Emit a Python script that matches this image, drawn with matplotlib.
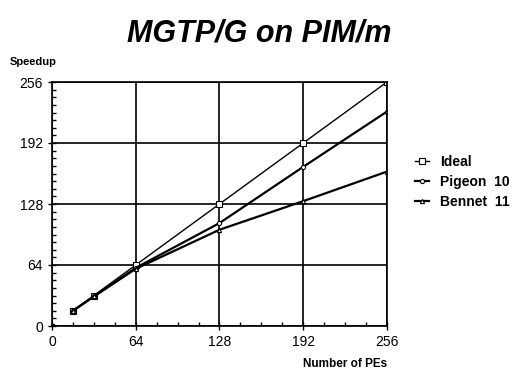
import matplotlib
matplotlib.use("Agg")
import matplotlib.pyplot as plt
from matplotlib.ticker import MultipleLocator

pes = [16, 32, 64, 128, 192, 256]
ideal = [16, 32, 64, 128, 192, 256]
pigeon = [16, 31, 61, 108, 167, 225]
bennet = [16, 31, 60, 101, 131, 162]
labels = ["Ideal", "Pigeon  10", "Bennet  11"]
ticks = [0, 64, 128, 192, 256]

plt.rcParams["font.family"] = ["Liberation Sans", "DejaVu Sans"]

fig = plt.figure(figsize=(5.27, 3.76), dpi=100)
ax = fig.add_axes([52 / 527, 1 - 326 / 376, 335 / 527, 244 / 376])

ax.plot(pes, ideal, color="black", lw=1.0, marker="s", ms=4, mfc="white", mec="black", mew=0.8, label=labels[0])
ax.plot(pes, pigeon, color="black", lw=1.6, marker="o", ms=3, mfc="white", mec="black", mew=0.8, label=labels[1])
ax.plot(pes, bennet, color="black", lw=1.6, marker="^", ms=3, mfc="white", mec="black", mew=0.8, label=labels[2])
ax.plot([0], [0], marker="s", ms=3, color="black")

ax.set_xlim(0, 256)
ax.set_ylim(0, 256)
ax.set_xticks(ticks)
ax.set_yticks(ticks)
ax.xaxis.set_minor_locator(MultipleLocator(16))
ax.yaxis.set_minor_locator(MultipleLocator(8))
ax.tick_params(which="major", direction="inout", length=6, width=1, labelsize=10)
ax.tick_params(which="minor", direction="in", length=3, width=1)
ax.grid(True, which="major", color="black", lw=1.2)
for s in ax.spines.values():
    s.set_linewidth(1.2)

fig.text(259 / 527, 1 - 34 / 376, "MGTP/G on PIM/m", fontsize=22, fontweight="bold", style="italic",
         ha="center", va="center")
fig.text(10 / 527, 1 - 62 / 376, "Speedup", fontsize=8, fontweight="bold", ha="left", va="center")
fig.text(387 / 527, 1 - 364 / 376, "Number of PEs", fontsize=8.5, fontweight="bold", ha="right", va="center")

fig.legend(loc="center left", bbox_to_anchor=(408 / 527, 1 - 182 / 376), frameon=False,
           handlelength=1.0, handletextpad=0.8, labelspacing=0.45, borderpad=0,
           prop={"weight": "bold", "size": 10})

fig.savefig("out.png", dpi=100)
